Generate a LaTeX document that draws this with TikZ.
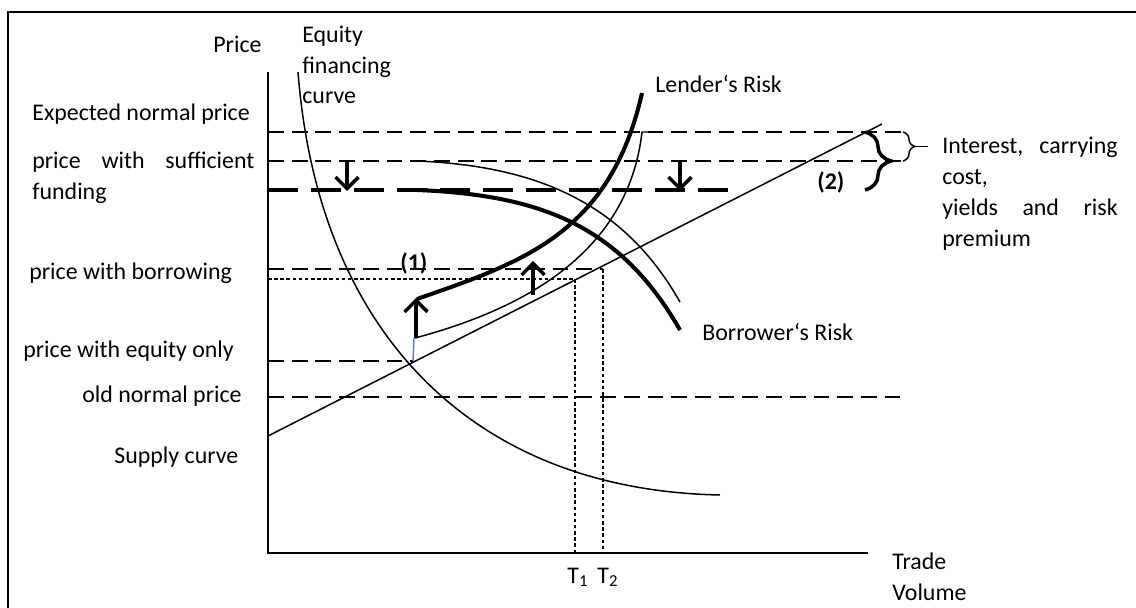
\documentclass[tikz,border=0pt]{standalone}
\usepackage{fontspec}
\setmainfont{Carlito}
\usepackage{tikz}
\usetikzlibrary{positioning,arrows.meta,decorations.pathreplacing}
\definecolor{guideblue}{HTML}{4F81BD}
\newcommand{\ChartFont}{\fontsize{13.6pt}{17.6pt}\selectfont}
\tikzset{
  frameline/.style={line width=1.1pt},
  axisline/.style={line width=1.7pt},
  curveline/.style={line width=0.85pt},
  riskline/.style={line width=2.3pt},
  levelline/.style={line width=0.85pt, dash pattern=on 9pt off 4.5pt},
  fundline/.style={line width=2.2pt, dash pattern=on 17pt off 7.5pt},
  volline/.style={line width=0.8pt, dash pattern=on 2pt off 1.5pt},
  shiftarrow/.style={line width=2pt, -{Straight Barb[length=6.5pt,width=13pt]}},
  chartlabel/.style={font=\ChartFont, inner sep=0pt, anchor=base west, align=left},
  bracebig/.style={line width=2pt, decorate, decoration={brace, amplitude=0.52cm}},
  bracesmall/.style={line width=0.85pt, decorate, decoration={brace, amplitude=0.24cm}}
}

\begin{document}
\begin{tikzpicture}[x=0.02cm, y=-0.02cm]
  \useasboundingbox (0,0) rectangle (1136,608);
  \draw[frameline] (8,608) -- (8,12) -- (1136,12);

  % axes
  \coordinate (origin) at (268,553);
  \coordinate (ytop) at (268,72);
  \coordinate (xend) at (868,553);
  \draw[axisline] (ytop) -- (origin) -- (xend);

  % price levels
  \coordinate (E) at (413,361);
  \draw[levelline] (268,132) -- (903,132);
  \draw[levelline] (268,161) -- (903,161);
  \draw[fundline] (268,190) -- (737,190);
  \draw[levelline] (268,269) -- (603,269);
  \draw[volline] (268,279) -- (575,279);
  \draw[levelline] (268,361) -- (E);
  \draw[levelline] (268,397) -- (900,397);

  % trade volumes
  \coordinate (T1) at (575,553);
  \coordinate (T2) at (603,553);
  \draw[volline] (575,279) -- (T1);
  \draw[volline] (603,269) -- (T2);

  % supply and equity financing curves
  \draw[curveline] (268,436) -- (882,124);
  \draw[curveline] (298,72) .. controls (318,330) and (470,490) .. (720,495);

  % risk curves
  \draw[riskline] (417,299) .. controls (520,263) and (610,235) .. (642,93);
  \draw[curveline] (415,338) .. controls (520,310) and (628,255) .. (642,132) -- (652,132);
  \draw[riskline] (417,190) .. controls (540,195) and (620,225) .. (680,330);
  \draw[curveline] (417,161) .. controls (540,166) and (625,205) .. (680,302);

  % shifts
  \draw[guideblue, line width=0.8pt] (E) -- (414,338);
  \draw[shiftarrow] (416,338) -- (416,298);
  \draw[shiftarrow] (533,295) -- (533,261);
  \draw[shiftarrow] (347,161) -- (347,191);
  \draw[shiftarrow] (680,161) -- (680,191);

  % braces
  \draw[bracebig] (865,132) -- (865,190);
  \draw[bracesmall] (903,132) -- (903,161);
  \coordinate (btip) at (915,146.5);
  \coordinate (bend) at (928,146.5);
  \draw[curveline] (btip) -- (bend);

  % labels (multi-line ones sit on their last baseline)
  \node[chartlabel] (price) at (213,53) {Price};
  \node[chartlabel] (equity) at (302,104) {Equity\\financing\\curve};
  \node[chartlabel] (expected) at (32,121) {Expected normal price};
  \node[chartlabel] (sufficient) at (32,199) {\makebox[126.4pt][s]{price with sufficient}\\funding};
  \node[chartlabel] (borrowing) at (29,279) {price with borrowing};
  \node[chartlabel] (equityonly) at (23,357) {price with equity only};
  \node[chartlabel] (oldnormal) at (82,402) {old normal price};
  \node[chartlabel] (supply) at (114,463) {Supply curve};
  \node[chartlabel] (lender) at (655,92) {Lender‘s Risk};
  \node[chartlabel] (borrower) at (702,340) {Borrower‘s Risk};
  \node[chartlabel] (premium) at (942,246) {\makebox[99.8pt][s]{Interest, carrying}\\cost,\\\makebox[99.8pt][s]{yields and risk}\\premium};
  \node[chartlabel, font=\ChartFont\bfseries] (one) at (400,270) {(1)};
  \node[chartlabel, font=\ChartFont\bfseries] (two) at (817,190) {(2)};
  \node[chartlabel] (t1) at (567,583) {T\textsubscript{1}};
  \node[chartlabel] (t2) at (597,583) {T\textsubscript{2}};
  \node[chartlabel] (volume) at (892,600) {Trade\\Volume};
\end{tikzpicture}
\end{document}
